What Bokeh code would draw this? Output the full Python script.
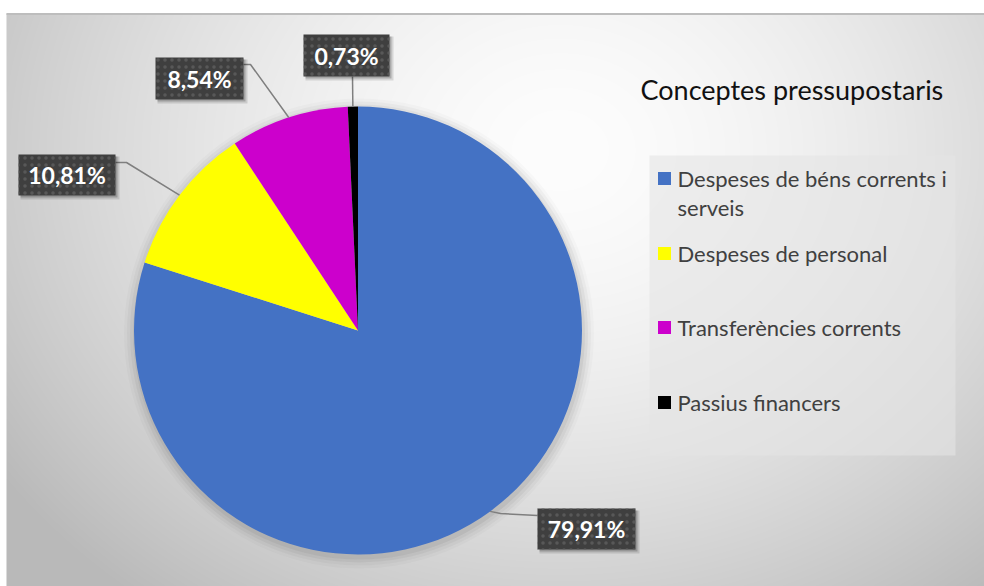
import numpy as np
from bokeh.plotting import figure
from bokeh.models import Range1d
from bokeh.core.properties import value
from bokeh.embed import file_html
from bokeh.resources import INLINE

# ---------------- data ----------------
categories = ["Despeses de béns corrents i serveis", "Despeses de personal",
              "Transferències corrents", "Passius financers"]
legend_text = ["Despeses de béns corrents i\nserveis", "Despeses de personal",
               "Transferències corrents", "Passius financers"]
values = [79.91, 10.81, 8.54, 0.73]
pct_labels = ["79,91%", "10,81%", "8,54%", "0,73%"]
colors = ["#4472C4", "#FFFF00", "#CC00CC", "#000000"]
title_text = "Conceptes pressupostaris"

# ---------------- layout helpers (screen px -> data) ----------------
W, H = 984, 586
def X(sx):
    return sx
def Y(sy):
    return H - sy

p = figure(width=W, height=H, output_backend="svg", toolbar_location=None,
           x_range=Range1d(0, W), y_range=Range1d(0, H), min_border=0)
p.axis.visible = False
p.grid.visible = False
p.outline_line_color = None
p.background_fill_color = "white"
p.border_fill_color = "white"

# background radial gradient (chart area from screen x=6, y=13)
IH = H - 13
IW = W - 6
xs = np.arange(IW) + 6.5
ys = H - (np.arange(IH) + 0.5)
XX, YY = np.meshgrid(xs, ys)
cx, cy = 560.0, 150.0
d = np.sqrt(((XX - cx) / 620.0) ** 2 + ((YY - cy) / 520.0) ** 2)
g = np.clip(253 - 58 * d ** 1.6, 185, 253).astype(np.uint8)
img = np.empty((IH, IW), dtype=np.uint32)
view = img.view(dtype=np.uint8).reshape((IH, IW, 4))
view[:, :, 0] = g
view[:, :, 1] = g
view[:, :, 2] = g
view[:, :, 3] = 255
p.image_rgba(image=[img], x=6, y=0, dw=IW, dh=IH)

# top border
p.line([X(6), X(984)], [Y(13.5), Y(13.5)], line_color="#bdbdbd", line_width=2)

# ---------------- pie ----------------
pcx, pcy, r = X(357.5), Y(330), 224
total = float(sum(values))
frac = np.array(values) / total
cum = np.concatenate([[0.0], np.cumsum(frac)])
start = np.pi / 2 - 2 * np.pi * cum[:-1]
end = np.pi / 2 - 2 * np.pi * cum[1:]

# soft shadow
for k, a in enumerate([0.05, 0.04, 0.03, 0.02]):
    p.circle(x=[pcx + 1], y=[pcy - 3], radius=r + 2 + 3 * k,
             fill_color="black", fill_alpha=a, line_color=None)

p.wedge(x=pcx, y=pcy, radius=r, start_angle=start, end_angle=end,
        direction="clock", fill_color=colors, line_color=None)

# ---------------- data labels ----------------
mid = (start + end) / 2
edge_x = pcx + r * np.cos(mid)
edge_y = pcy + r * np.sin(mid)

# label boxes (screen px): left, top, right, bottom
boxes = [(537, 508, 635, 549), (18, 154, 115, 195), (155, 57, 243, 99), (303, 34, 389, 76)]
elbows = [[(500, 513)], [(126, 162)], [(250, 64)], []]
anchors = [(537, 515), (115, 162), (243, 64), (352, 76)]

for i in range(4):
    pts_x = [edge_x[i]] + [X(e[0]) for e in elbows[i][::-1]] + [X(anchors[i][0])]
    pts_y = [edge_y[i]] + [Y(e[1]) for e in elbows[i][::-1]] + [Y(anchors[i][1])]
    p.line(pts_x, pts_y, line_color="#7f7f7f", line_width=1.5)

for i, (l, t, rr, b) in enumerate(boxes):
    bx = X((l + rr) / 2)
    by = Y((t + b) / 2)
    bw = rr - l
    bh = b - t
    p.rect(x=bx + 3, y=by - 3, width=bw + 2, height=bh + 2, fill_color="black",
           fill_alpha=0.12, line_color=None)
    p.rect(x=bx + 2, y=by - 2, width=bw, height=bh, fill_color="black",
           fill_alpha=0.2, line_color=None)
    p.rect(x=bx, y=by, width=bw, height=bh, fill_color="#3f3f3f", line_color=None,
           hatch_pattern="dot", hatch_color="#5e5e5e", hatch_scale=7, hatch_alpha=0.8)
    p.text(x=[bx], y=[by], text=[pct_labels[i]], text_color="white",
           text_font=value("Lato"), text_font_style="bold", text_font_size="23px",
           text_align="center", text_baseline="middle")

# ---------------- legend ----------------
p.text(x=[X(640)], y=[Y(89)], text=[title_text], text_color="#111111",
       text_font=value("Lato"), text_font_size="27px",
       text_align="left", text_baseline="middle")

p.rect(x=X((649 + 955) / 2), y=Y((155 + 455) / 2), width=306, height=300,
       fill_color="#e4e4e4", fill_alpha=0.6, line_color=None)

item_y = [178, 253, 327, 402]
for i in range(4):
    p.rect(x=[X(664)], y=[Y(item_y[i])], width=13, height=13,
           fill_color=colors[i], line_color=None)
    for k, line in enumerate(legend_text[i].split("\n")):
        p.text(x=[X(677)], y=[Y(item_y[i] + 28.7 * k)], text=[line],
               text_color="#404040", text_font=value("Lato"),
               text_font_size="22px", text_align="left", text_baseline="middle")

open("out.html", "w").write(file_html(p, INLINE))
